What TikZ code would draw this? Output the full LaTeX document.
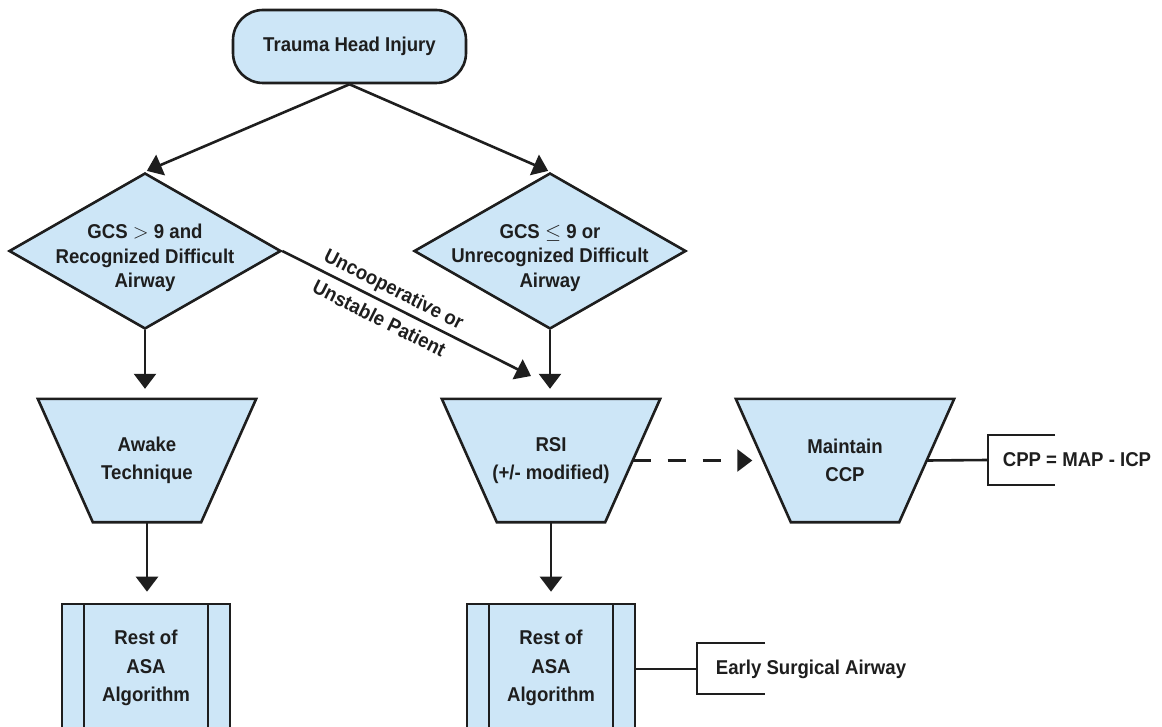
\documentclass[tikz,border=0pt]{standalone}
\usepackage{fontspec}
\setmainfont{Liberation Sans}[FakeStretch=0.93]
\usetikzlibrary{shapes.geometric,arrows.meta,backgrounds}
\definecolor{boxfill}{RGB}{205,230,247}
\definecolor{ink}{RGB}{30,30,30}
\begin{document}
\begin{tikzpicture}[x=1pt,y=-1pt,
  shp/.style={draw=ink, fill=boxfill, line width=2.6pt, inner sep=0pt},
  txt/.style={font=\fontsize{20}{28.5}\selectfont\bfseries, text=ink, align=center},
  dtxt/.style={font=\fontsize{20}{24.5}\selectfont\bfseries, text=ink, align=center},
  stxt/.style={font=\fontsize{20}{33}\selectfont\bfseries, text=ink, align=center, inner sep=0pt},
  term/.style={shp, rectangle, rounded corners=30pt, minimum width=233pt, minimum height=73pt},
  dec/.style={shp, diamond, minimum width=272pt, minimum height=156pt},
  trapbox/.style={txt, rectangle, inner sep=0pt, minimum width=218pt, minimum height=123pt},
  trapline/.style={draw=ink, fill=boxfill, line width=2.6pt, line join=miter},
  proc/.style={shp, rectangle, minimum width=168pt, minimum height=160pt,
    path picture={\draw[ink, line width=2.6pt]
      ([xshift=22pt]path picture bounding box.north west) -- ([xshift=22pt]path picture bounding box.south west)
      ([xshift=-22pt]path picture bounding box.north east) -- ([xshift=-22pt]path picture bounding box.south east);}},
  arr/.style={draw=ink, line width=2.6pt, -{Triangle[width=22pt,length=15pt]}},
  conn/.style={draw=ink, line width=2.6pt},
]
\useasboundingbox (0,0) rectangle (1162,727);
\clip (0,0) rectangle (1162,727);

\node[term, label={[txt]center:Trauma Head Injury}] (top) at (349.5,46.5) {};
\node[dec, label={[dtxt,yshift=-7pt]center:{GCS $>$ 9 and\\Recognized Difficult\\Airway}}] (d1) at (145,251) {};
\node[dec, label={[dtxt,yshift=-7pt]center:{GCS $\leq$ 9 or\\Unrecognized Difficult\\Airway}}] (d2) at (550,251) {};
\node[trapbox] (aw) at (147,460.5) {Awake\\Technique};
\node[trapbox] (rsi) at (551,460.5) {RSI\\(+/- modified)};
\node[trapbox] (mcp) at (845,460.5) {Maintain\\CCP};
\begin{scope}[on background layer]
  \foreach \n in {aw,rsi,mcp}
    \draw[trapline] (\n.north west) -- (\n.north east) -- ([xshift=-55pt]\n.south east)
      -- ([xshift=55pt]\n.south west) -- cycle;
\end{scope}
\node[proc, label={[txt,yshift=16pt]center:{Rest of\\ASA\\Algorithm}}] (r1) at (146,684) {};
\node[proc, label={[txt,yshift=16pt]center:{Rest of\\ASA\\Algorithm}}] (r2) at (551,684) {};
\node[txt] (cpp) at (1077,460) {CPP = MAP - ICP};
\node[txt] (esa) at (811,669) {Early Surgical Airway};
\coordinate (tipD) at (531,376);
\coordinate (b1) at (988,460);
\coordinate (b2) at (697,669);

\draw[arr, shorten >=2pt] (top.south) -- (d1.north);
\draw[arr, shorten >=2pt] (top.south) -- (d2.north);
\draw[arr, shorten >=10pt] (d1.south) -- (d1.south |- aw.north);
\draw[arr, shorten >=10pt] (d2.south) -- (d2.south |- rsi.north);
\draw[arr, shorten >=11pt] (aw.south) -- (aw.south |- r1.north);
\draw[arr, shorten >=11pt] (rsi.south) -- (rsi.south |- r2.north);
\draw[arr] (d1.east) -- node[stxt, sloped, pos=0.42] {Uncooperative or\\Unstable Patient} (tipD);
\draw[arr, dash pattern=on 18pt off 17pt, shorten >=11pt] ([xshift=-27.5pt]rsi.east) -- ([xshift=27.5pt]mcp.west);
\draw[conn] ([xshift=-27.5pt]mcp.east) -- (b1);
\draw[conn] (1055,435) -- (988,435) -- (988,485) -- (1055,485);
\draw[conn] ([yshift=15pt]r2.east) -- (b2);
\draw[conn] (765,643) -- (697,643) -- (697,694) -- (765,694);
\end{tikzpicture}
\end{document}
